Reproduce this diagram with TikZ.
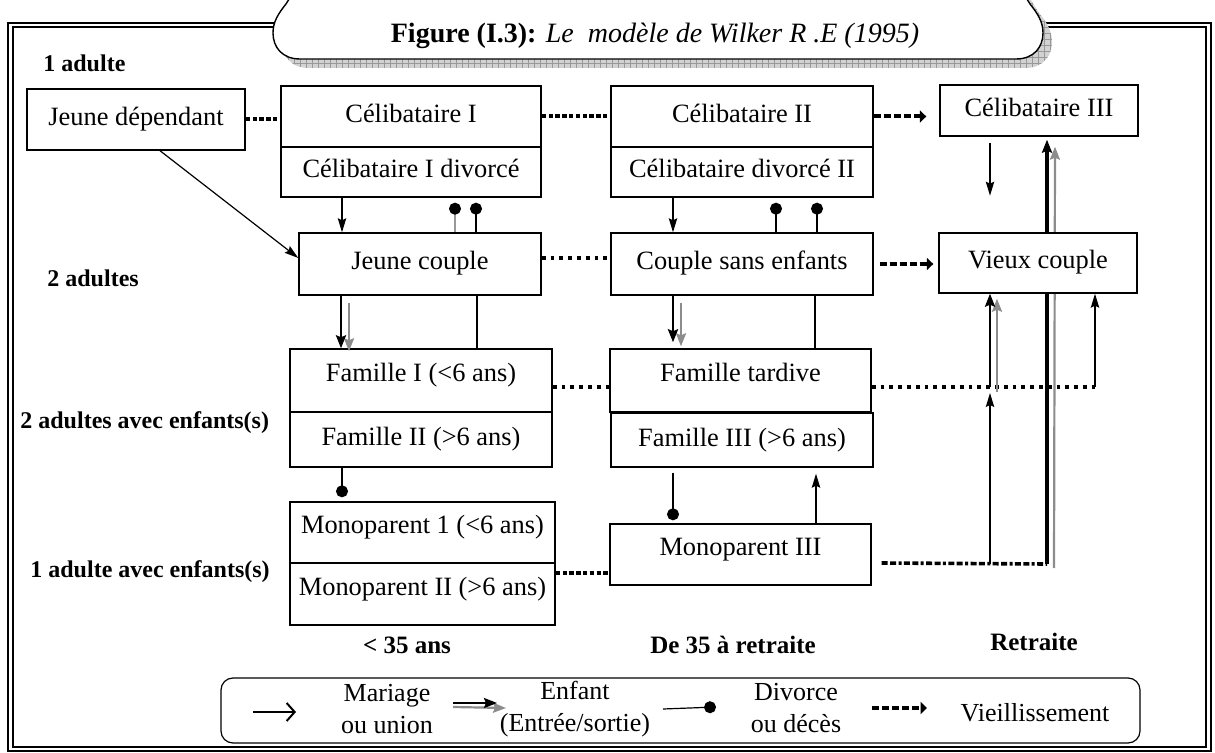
\documentclass[tikz,border=0pt]{standalone}
\usepackage{fontspec}
\setmainfont{Liberation Serif}
\usetikzlibrary{arrows.meta,calc,patterns,backgrounds}
\newcommand\boxfont{\fontsize{13.2}{15}\selectfont}
\newcommand\rowfont{\fontsize{12}{14}\selectfont\bfseries}
\newcommand\colfont{\fontsize{12.5}{14}\selectfont\bfseries}
\newcommand\legfont{\fontsize{13}{16}\selectfont}
\colorlet{kidgrey}{gray!90}
\tikzset{
  box/.style={draw, fill=white, line width=0.7pt, inner sep=0pt, font=\boxfont,
    text height=9pt, text depth=3pt},
  raised/.style={text depth=8pt},
  marry/.style={line width=0.6pt, -{Stealth[length=7pt,width=4.2pt,inset=1pt]}},
  kidblack/.style={line width=1.2pt, -{Stealth[length=6.5pt,width=5pt,inset=1pt]}},
  kidgray/.style={draw=kidgrey, line width=1.1pt,
    -{Stealth[length=6.5pt,width=5pt,inset=1pt,color=kidgrey,fill=kidgrey]}},
  split/.style={line width=0.6pt, -{Circle[length=6pt,color=black,fill=black]}},
  plainlink/.style={line width=0.6pt},
  aging/.style={line width=2pt, dash pattern=on 3.5pt off 1.5pt,
    -{Triangle[length=3.2pt,width=6pt]}},
  bigdot/.style={line width=2pt, dash pattern=on 2.2pt off 1.2pt},
  smalldot/.style={line width=1.6pt, dash pattern=on 1.9pt off 2.5pt},
  mixdash/.style={line width=1.8pt,
    dash pattern=on 3pt off 1.2pt on 3pt off 1.2pt on 1.5pt off 1.2pt},
  rowlabel/.style={font=\rowfont, anchor=west, inner sep=0pt},
  collabel/.style={font=\colfont, inner sep=0pt},
  legtext/.style={font=\legfont, align=center, inner sep=0pt},
}
\begin{document}
\begin{tikzpicture}[x=0.5pt,y=-0.5pt]
\useasboundingbox (0,0) rectangle (1215,753);

% double frame
\draw[line width=1.3pt] (8,23) rectangle (1211,751);
\draw[line width=0.6pt] (13,27) rectangle (1206,747);

% title banner with its hatched shadow
\path[shift={(9,9)}, fill=gray!35, postaction={pattern=grid, pattern color=gray!80}]
  (300,59) .. controls (282,59) and (273,47) .. (273,33)
  .. controls (273,22) and (278,14) .. (286,4) -- (296,-12) -- (1020,-12) -- (1030,4)
  .. controls (1038,14) and (1043,22) .. (1043,33)
  .. controls (1043,47) and (1034,59) .. (1016,59) -- cycle;
\draw[fill=white, line width=0.7pt]
  (300,59) .. controls (282,59) and (273,47) .. (273,33)
  .. controls (273,22) and (278,14) .. (286,4) -- (296,-12) -- (1020,-12) -- (1030,4)
  .. controls (1038,14) and (1043,22) .. (1043,33)
  .. controls (1043,47) and (1034,59) .. (1016,59) -- cycle;
\node[font=\fontsize{14}{16}\selectfont, inner sep=0pt] (title) at (655,36)
  {\textbf{Figure (I.3):} \textit{Le\ \ modèle de Wilker R .E (1995)}};

% row and column labels
\node[rowlabel] (r1) at (43,63) {1 adulte};
\node[rowlabel] (r2) at (47,278) {2 adultes};
\node[rowlabel] (r3) at (20,423) {2 adultes avec enfants(s)};
\node[rowlabel] (r4) at (30,572) {1 adulte avec enfants(s)};
\node[collabel] (k1) at (407,645) {< 35 ans};
\node[collabel] (k2) at (733,645) {De 35 à retraite};
\node[collabel] (k3) at (1034,642) {Retraite};

% household states
\node[box, minimum width=109pt, minimum height=30.5pt] (jd) at (136,119.5) {Jeune dépendant};
\node[box, minimum width=130pt, minimum height=30.5pt] (c1) at (411,116.5) {Célibataire I};
\node[box, minimum width=130pt, minimum height=25pt] (c1d) at (411,172) {Célibataire I divorcé};
\node[box, minimum width=131pt, minimum height=30.5pt] (c2) at (742,116.5) {Célibataire II};
\node[box, minimum width=131pt, minimum height=25pt] (c2d) at (742,172) {Célibataire divorcé II};
\node[box, minimum width=99pt, minimum height=25.5pt] (c3) at (1039,110.5) {Célibataire III};
\node[box, minimum width=121pt, minimum height=31pt] (jc) at (420,264) {Jeune couple};
\node[box, minimum width=131pt, minimum height=31pt] (cse) at (742,264) {Couple sans enfants};
\node[box, minimum width=99pt, minimum height=30pt] (vc) at (1038,263) {Vieux couple};
\node[box, raised, minimum width=131pt, minimum height=31.5pt] (f1) at (421,380.5) {Famille I (<6 ans)};
\node[box, minimum width=131pt, minimum height=27.5pt] (f2) at (421,439.5) {Famille II (>6 ans)};
\node[box, raised, minimum width=130.5pt, minimum height=31.5pt] (ft) at (740.5,380.5) {Famille tardive};
\node[box, minimum width=131pt, minimum height=27pt] (f3) at (742,440) {Famille III (>6 ans)};
\node[box, raised, minimum width=132.5pt, minimum height=30.5pt] (mp1) at (422.5,532.5) {Monoparent 1 (<6 ans)};
\node[box, raised, minimum width=132.5pt, minimum height=31pt] (mp2) at (422.5,594) {Monoparent II (>6 ans)};
\node[box, raised, minimum width=130.5pt, minimum height=30.5pt] (mp3) at (740.5,554.5) {Monoparent III};

% turning points on the right
\coordinate (mpr) at (1047,564);
\coordinate (mpg) at (1054,568);
\coordinate (mpm) at (990,564);
\coordinate (ftm) at (990,387);
\coordinate (ftr) at (1095,387);

% ageing links
\draw[bigdot] (jd.east) -- (jd.east -| c1.west);
\draw[bigdot] (c1.east) -- (c2.west);
\draw[aging, shorten >=6.5pt] (c2.east) -- (c2.east -| c3.west);
\draw[smalldot] ($(jc.east)+(0,-6)$) -- ($(cse.west)+(0,-6)$);
\draw[aging, shorten <=3pt, shorten >=2.5pt] (cse.east) -- (cse.east -| vc.west);
\draw[smalldot] ($(f1.east)+(0,6.5)$) -- ($(ft.west)+(0,6.5)$);
\draw[smalldot] ($(ft.east)+(0,6.5)$) -- (ftr);
\draw[marry] (ftr) -- (ftr |- vc.south);
\draw[bigdot] ($(mp2.east)+(0,-21)$) -- ($(mp3.west)+(0,18.5)$);
\draw[mixdash] ($(mp3.east)+(10,8.5)$) -- (mpr);

% marriage / union
\draw[marry] ($(jd.south)+(24,0)$) -- ($(jc.west)+(0,-6)$);
\draw[marry] ($(c1d.south)+(-69,0)$) -- ($(jc.north)+(-78,0)$);
\draw[marry] ($(c2d.south)+(-69,0)$) -- ($(cse.north)+(-69,0)$);
\draw[marry] ($(c3.south)+(-49,6)$) -- ++(0,53);
\draw[marry] (mpm) -- ([yshift=-3pt]ftm);
\draw[marry] (mp3.north -| 816,0) -- ($(f3.south)+(74,6)$);

% divorce or death
\draw[split, draw=gray!80] ($(jc.north)+(35,0)$) -- ($(c1d.south)+(44,5)$);
\draw[split] ($(jc.north)+(56,0)$) -- ($(c1d.south)+(65,5)$);
\draw[split] ($(cse.north)+(34,0)$) -- ($(c2d.south)+(34,5)$);
\draw[split] ($(cse.north)+(75,0)$) -- ($(c2d.south)+(75,5)$);
\draw[split] ($(f2.south)+(-79,0)$) -- ($(mp1.north)+(-80.5,-4)$);
\draw[split] ($(f3.south)+(-69,5)$) -- ($(mp3.north)+(-67.5,-3)$);

% children in / out
\draw[kidgray] ($(jc.south)+(-71,7)$) -- ($(f1.north)+(-72,3)$);
\draw[kidblack] ($(jc.south)+(-79,0)$) -- ($(f1.north)+(-80,0)$);
\draw[plainlink] ($(jc.south)+(57,0)$) -- ($(f1.north)+(56,0)$);
\draw[kidgray] ($(cse.south)+(-61,7)$) -- ($(ft.north)+(-59.5,-2)$);
\draw[kidblack, line width=1.4pt] ($(cse.south)+(-69,0)$) -- ($(ft.north)+(-67.5,-6)$);
\draw[plainlink, line width=0.9pt] ($(cse.south)+(73,0)$) -- ($(ft.north)+(74.5,0)$);
\draw[kidgray] ($(ftm)+(7,5)$) -- ($(vc.south)+(-41,5)$);
\draw[kidblack] (ftm) -- ($(vc.south)+(-48,0)$);
\begin{scope}[on background layer]
  \draw[kidgray] (mpg) -- ($(c3.south)+(16,10)$);
  \draw[kidblack, line width=1.6pt] (mpr) -- ($(c3.south)+(8,3)$);
\end{scope}

% legend
\draw[line width=0.6pt, rounded corners=6pt] (221,678) rectangle (1140,743);
\draw[line width=1pt, -{Straight Barb[length=4pt,width=9pt]}] (253,712) -- (296,712);
\node[legtext] (lg1) at (387,709) {Mariage\\ou union};
\draw[kidgray] (453,707) -- (506,708);
\draw[kidblack] (453,703) -- (497,703);
\node[legtext] (lg2) at (575,709) {Enfant\\(Entrée/sortie)};
\draw[split] (663,709) -- (716,707);
\node[legtext] (lg3) at (796,708) {Divorce\\ou décès};
\draw[aging] (872,708) -- (927,708);
\node[legtext] (lg4) at (1035,713) {Vieillissement};
\end{tikzpicture}
\end{document}
